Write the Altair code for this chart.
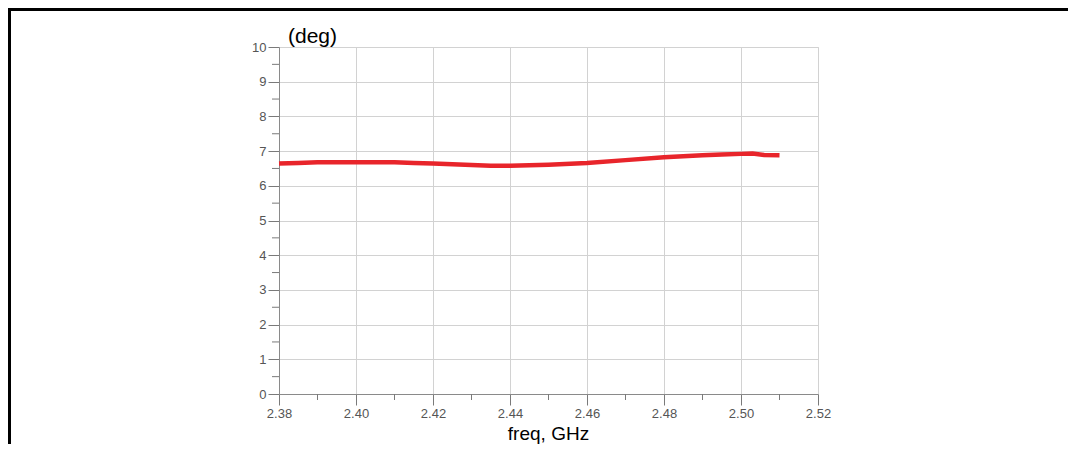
import altair as alt
import pandas as pd

# Data
freq = [2.380, 2.385, 2.390, 2.400, 2.410, 2.415, 2.420, 2.430, 2.435, 2.440,
        2.445, 2.450, 2.460, 2.470, 2.480, 2.490, 2.495, 2.500, 2.503, 2.506, 2.510]
phase = [6.64, 6.66, 6.68, 6.68, 6.68, 6.66, 6.64, 6.60, 6.58, 6.58,
         6.59, 6.61, 6.66, 6.74, 6.82, 6.88, 6.90, 6.92, 6.93, 6.89, 6.88]

x_major = [2.38, 2.40, 2.42, 2.44, 2.46, 2.48, 2.50, 2.52]
x_minor = [2.39, 2.41, 2.43, 2.45, 2.47, 2.49, 2.51]
y_major = [0, 1, 2, 3, 4, 5, 6, 7, 8, 9, 10]
y_minor = [0.5, 1.5, 2.5, 3.5, 4.5, 5.5, 6.5, 7.5, 8.5, 9.5]

x_title = "freq, GHz"
y_title = "(deg)"

W, H = 539, 347
PAD_L, PAD_T, PAD_R, PAD_B = 271, 39, 250, 50
FONT = "Liberation Sans"

df = pd.DataFrame({"freq": freq, "phase": phase})
xs = alt.Scale(domain=[2.38, 2.52], nice=False, zero=False)
ys = alt.Scale(domain=[0, 10], nice=False, zero=False)

common = dict(title=None, labelFlush=False, grid=True, gridColor="#d2d2d2",
              domainColor="#8a8a8a", tickColor="#7a7a7a", tickSize=11,
              labelPadding=2, labelFontSize=13, labelColor="#555555",
              labelFont=FONT)
xaxis = alt.Axis(values=x_major, format=".2f", **common)
yaxis = alt.Axis(values=y_major, format="d", **common)

line = alt.Chart(df).mark_line(color="#e8252b", strokeWidth=4.5).encode(
    x=alt.X("freq:Q", scale=xs, axis=xaxis),
    y=alt.Y("phase:Q", scale=ys, axis=yaxis),
)

ymin = alt.Chart(pd.DataFrame({"v": y_minor})).mark_rule(color="#7a7a7a", strokeWidth=1).encode(
    y=alt.Y("v:Q", scale=ys, axis=yaxis),
    x=alt.value(-7), x2=alt.value(0),
)
xmin = alt.Chart(pd.DataFrame({"v": x_minor})).mark_rule(color="#7a7a7a", strokeWidth=1).encode(
    x=alt.X("v:Q", scale=xs, axis=xaxis),
    y=alt.value(H), y2=alt.value(H + 6),
)

ylab = alt.Chart(pd.DataFrame({"t": [y_title]})).mark_text(
    align="left", baseline="alphabetic", fontSize=21, font=FONT, color="#000000"
).encode(text="t:N", x=alt.value(9), y=alt.value(-4))

xlab = alt.Chart(pd.DataFrame({"t": [x_title]})).mark_text(
    align="center", baseline="alphabetic", fontSize=19, font=FONT, color="#000000"
).encode(text="t:N", x=alt.value(W / 2), y=alt.value(H + 46))

frame_left = alt.Chart(pd.DataFrame({"a": [0]})).mark_rule(
    color="#000000", strokeWidth=3
).encode(
    x=alt.value(-PAD_L + 1.5),
    y=alt.value(-PAD_T + 0.5), y2=alt.value(H + PAD_B + 10),
)
frame_top = alt.Chart(pd.DataFrame({"a": [0]})).mark_rule(
    color="#000000", strokeWidth=3
).encode(
    y=alt.value(-PAD_T + 1.5),
    x=alt.value(-PAD_L), x2=alt.value(W + PAD_R + 30),
)

chart = alt.layer(line, ymin, xmin, frame_left, frame_top, ylab, xlab).properties(
    width=W, height=H,
    autosize=alt.AutoSizeParams(type="none"),
    padding={"left": PAD_L, "top": PAD_T, "right": PAD_R, "bottom": PAD_B},
).configure_view(
    stroke="#9a9a9a", strokeWidth=1
).configure(background="white")

chart.save("out.html", embed_options={"renderer": "svg", "actions": False})
